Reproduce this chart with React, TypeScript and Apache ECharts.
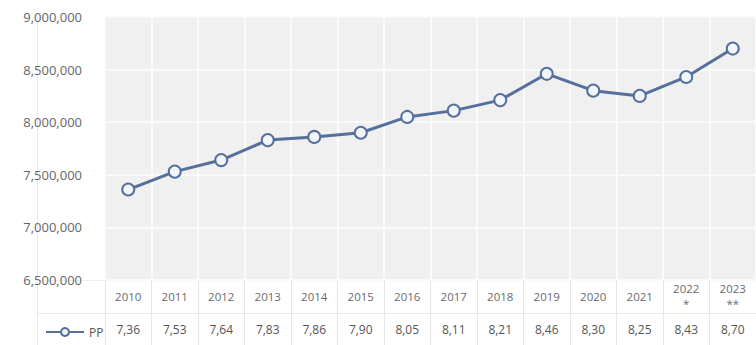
import React, { useEffect, useRef } from "react";
import * as echarts from "echarts";

const years = ["2010", "2011", "2012", "2013", "2014", "2015", "2016", "2017", "2018", "2019", "2020", "2021", "2022\n*", "2023\n**"];
const ppValues = [7360000, 7530000, 7640000, 7830000, 7860000, 7900000, 8050000, 8110000, 8210000, 8460000, 8300000, 8250000, 8430000, 8700000];
const seriesName = "PP";
const yMin = 6500000;
const yMax = 9000000;
const yStep = 500000;

const tableLabels = ppValues.map((v) => (v / 1e6).toFixed(2).replace(".", ","));

export default function App() {
  const ref = useRef<HTMLDivElement>(null);
  useEffect(() => {
    document.body.style.margin = "0";
    if (!ref.current) return;
    const chart = echarts.init(ref.current, undefined, { renderer: "svg" });
    const font = "Open Sans";
    const lineColor = "#55709c";
    chart.setOption({
      animation: false,
      backgroundColor: "#ffffff",
      textStyle: { fontFamily: font },
      grid: {
        left: 105,
        top: 17,
        width: 658,
        height: 263,
        show: true,
        backgroundColor: "#f0f0f0",
        borderWidth: 0,
      },
      legend: {
        show: true,
        left: 40,
        top: 321,
        itemWidth: 38,
        itemHeight: 10,
        itemGap: 6,
        textStyle: { color: "#555", fontSize: 12, fontFamily: font },
        data: [seriesName],
      },
      xAxis: [
        {
          type: "category",
          data: years,
          boundaryGap: true,
          axisLine: { show: false },
          axisTick: { show: true, length: 65, lineStyle: { color: "#e6e6e6", width: 1 } },
          splitLine: { show: true, lineStyle: { color: "#fbfbfb", width: 2 } },
          axisLabel: {
            color: "#6a6a6a",
            fontSize: 11.5,
            fontFamily: font,
            margin: 16,
            verticalAlign: "middle",
            lineHeight: 15,
            interval: 0,
          },
        },
        {
          type: "category",
          data: tableLabels,
          position: "bottom",
          boundaryGap: true,
          axisLine: { show: false },
          axisTick: { show: false },
          splitLine: { show: false },
          axisLabel: {
            color: "#555",
            fontSize: 12,
            fontFamily: font,
            margin: 49,
            verticalAlign: "middle",
            interval: 0,
          },
        },
      ],
      yAxis: {
        type: "value",
        min: yMin,
        max: yMax,
        interval: yStep,
        axisLine: { show: false },
        axisTick: { show: false },
        splitLine: { show: true, lineStyle: { color: "#fafafa", width: 2 } },
        axisLabel: {
          color: "#666",
          fontSize: 13,
          fontFamily: font,
          margin: 23,
          formatter: (v: number) => v.toLocaleString("en-US"),
        },
      },
      graphic: [
        {
          type: "line",
          shape: { x1: 37.5, y1: 17, x2: 37.5, y2: 345 },
          style: { stroke: "#e8e8e8", lineWidth: 1 },
        },
        {
          type: "line",
          shape: { x1: 37, y1: 313.5, x2: 756, y2: 313.5 },
          style: { stroke: "#e8e8e8", lineWidth: 1 },
        },
        {
          type: "line",
          shape: { x1: 37, y1: 280.5, x2: 105, y2: 280.5 },
          style: { stroke: "#f0f0f0", lineWidth: 1 },
        },
      ],
      series: [
        {
          name: seriesName,
          type: "line",
          data: ppValues,
          xAxisIndex: 0,
          yAxisIndex: 0,
          symbol: "circle",
          symbolSize: 12,
          showSymbol: true,
          lineStyle: { color: lineColor, width: 3 },
          itemStyle: { color: "#f2f6fb", borderColor: lineColor, borderWidth: 2 },
        },
      ],
    });
    return () => chart.dispose();
  }, []);
  return <div ref={ref} style={{ width: 756, height: 345 }} />;
}
